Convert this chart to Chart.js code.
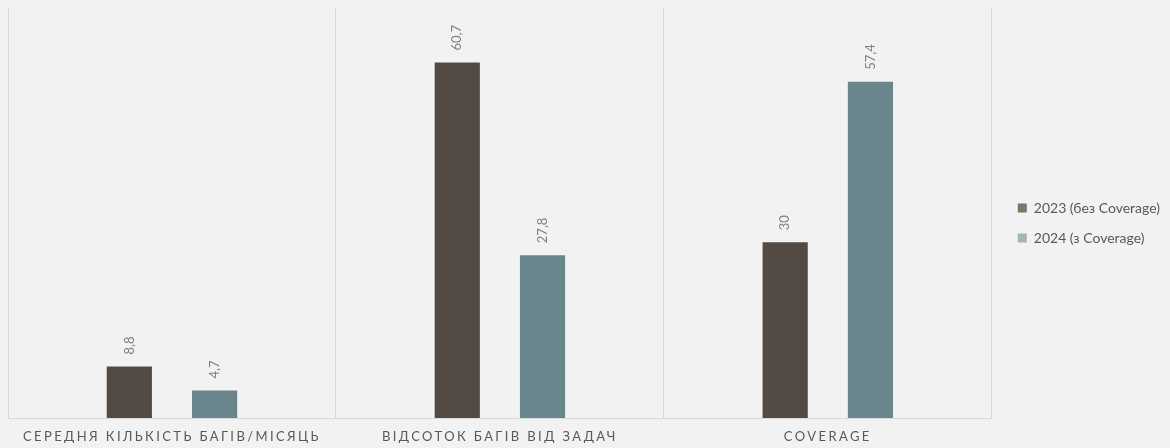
<!DOCTYPE html>
<html>
<head>
<meta charset="utf-8">
<script src="https://cdn.jsdelivr.net/npm/chart.js@4/dist/chart.umd.min.js"></script>
<style>
  html, body { margin: 0; padding: 0; background: #f2f2f2; }
  #wrap { width: 1170px; height: 448px; }
</style>
</head>
<body>
<div id="wrap"><canvas id="chart"></canvas></div>
<script>
const categories = ['СЕРЕДНЯ КІЛЬКІСТЬ БАГІВ/МІСЯЦЬ', 'ВІДСОТОК БАГІВ ВІД ЗАДАЧ', 'COVERAGE'];
const seriesNames = ['2023 (без Coverage)', '2024 (з Coverage)'];
const values2023 = [8.8, 60.7, 30];
const values2024 = [4.7, 27.8, 57.4];

const barColors = ['#524a43', '#69868d'];
const legendColors = ['#7d7367', '#a3b4ba'];

// draws the rotated value above each bar
const valueLabels = {
  id: 'valueLabels',
  afterDatasetsDraw(chart) {
    const ctx = chart.ctx;
    chart.data.datasets.forEach((ds, i) => {
      chart.getDatasetMeta(i).data.forEach((bar, j) => {
        const txt = String(ds.data[j]).replace('.', ',');
        ctx.save();
        ctx.translate(bar.x, bar.y - 12);
        ctx.rotate(-Math.PI / 2);
        ctx.font = '13px Lato';
        ctx.fillStyle = '#808080';
        ctx.textAlign = 'left';
        ctx.textBaseline = 'middle';
        ctx.fillText(txt, 0, 0);
        ctx.restore();
      });
    });
  }
};

// spaced capitals on the category axis, legend nudged up a little
const tweaks = {
  id: 'tweaks',
  afterLayout(chart) {
    chart.legend.bottom -= 10;
  },
  beforeDraw(chart) {
    const s = chart.scales.x;
    if (s._spaced) return;
    const orig = s.drawLabels;
    s.drawLabels = function (area) {
      this.ctx.save();
      this.ctx.letterSpacing = '2.4px';
      orig.call(this, area);
      this.ctx.restore();
    };
    s._spaced = true;
  }
};

new Chart('chart', {
  type: 'bar',
  data: {
    labels: categories,
    datasets: [{
      label: seriesNames[0],
      data: values2023,
      backgroundColor: barColors[0],
      categoryPercentage: 0.52,
      barPercentage: 0.53
    }, {
      label: seriesNames[1],
      data: values2024,
      backgroundColor: barColors[1],
      categoryPercentage: 0.52,
      barPercentage: 0.53
    }]
  },
  options: {
    responsive: true,
    maintainAspectRatio: false,
    animation: false,
    layout: { padding: { left: 8, top: 8, bottom: 0, right: 0 } },
    plugins: {
      legend: {
        position: 'right',
        labels: {
          boxWidth: 9,
          boxHeight: 9,
          padding: 16,
          color: '#595959',
          font: { family: 'Lato', size: 14 },
          generateLabels(chart) {
            return chart.data.datasets.map((ds, i) => ({
              text: ds.label,
              fillStyle: legendColors[i],
              strokeStyle: legendColors[i],
              lineWidth: 0,
              fontColor: '#595959',
              datasetIndex: i
            }));
          }
        }
      },
      tooltip: { enabled: false }
    },
    scales: {
      x: {
        offset: true,
        grid: { display: true, offset: true, color: '#d9d9d9', lineWidth: 1, drawTicks: false },
        border: { display: true, color: '#d9d9d9' },
        ticks: { color: '#595959', padding: 11, font: { family: 'Lato', size: 13 }, maxRotation: 0 },
        afterFit(scale) { scale.height = 30; }
      },
      y: {
        display: false,
        min: 0,
        max: 70
      },
      gap: {
        position: 'right',
        display: true,
        grid: { display: false },
        border: { display: false },
        ticks: { display: false },
        afterFit(scale) { scale.width = 10; }
      }
    }
  },
  plugins: [valueLabels, tweaks]
});
</script>
</body>
</html>
